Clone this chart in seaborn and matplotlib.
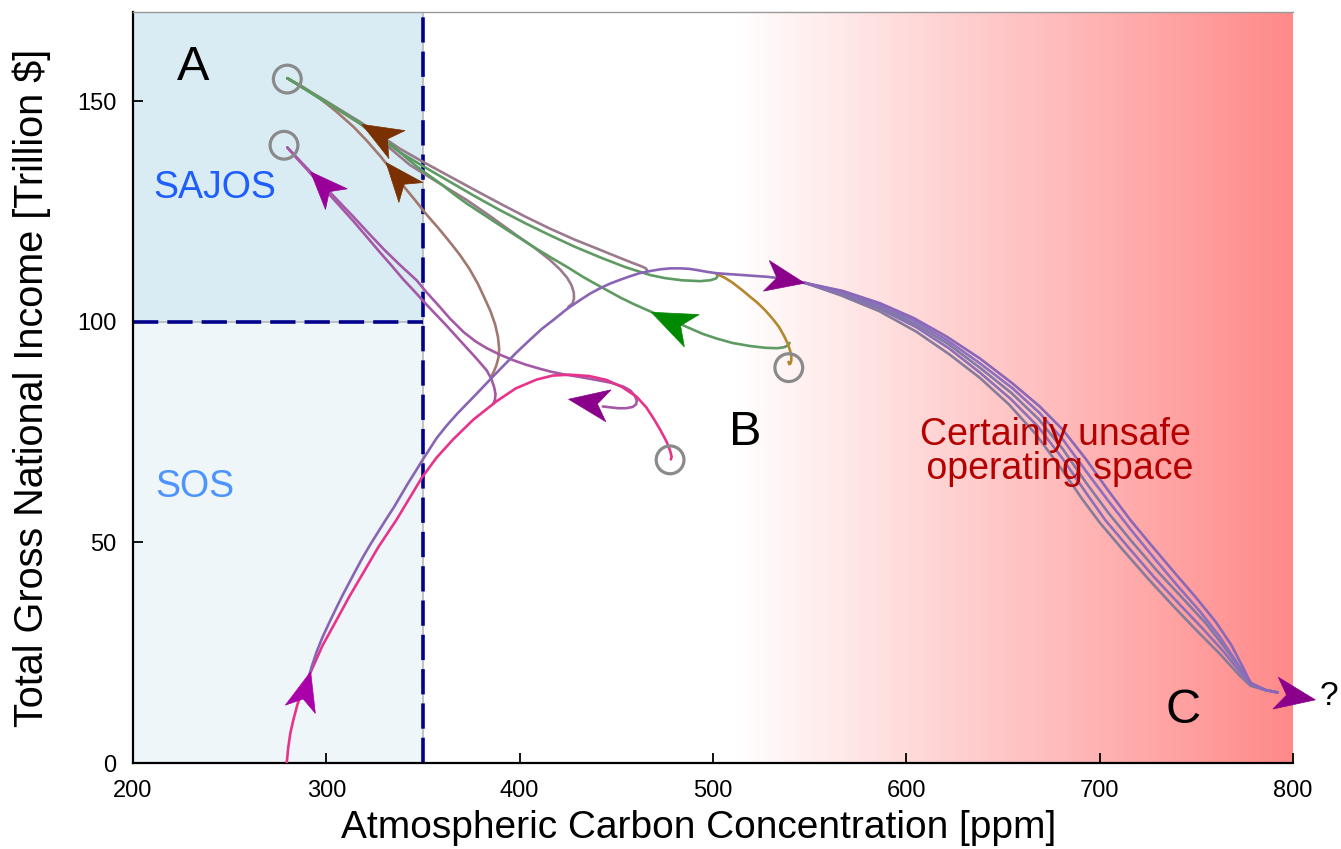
import numpy as np
import matplotlib
matplotlib.use("Agg")
import matplotlib.pyplot as plt
import seaborn as sns
from matplotlib.path import Path
from matplotlib.markers import MarkerStyle
from matplotlib.transforms import Affine2D
from matplotlib.colors import LinearSegmentedColormap


# trajectories, (ppm, trillion $)
PINK = [(279.5, 0), (280.3, 3.5), (281.4, 6.8), (282.9, 9.7), (285, 13.2), (288, 16.8), (291.6, 20.3),
        (298, 26.6), (305.4, 32.5), (312, 37.8), (319.1, 43.1), (327, 49), (336.4, 55.2), (343, 60),
        (349.3, 64.6), (357, 69.2), (365.7, 73.4), (376, 77.8), (388.1, 82), (398, 84.9), (408.8, 86.9),
        (417, 87.8), (426, 88), (436, 87.7), (445, 86.8), (453, 85.2), (460.5, 83), (465.5, 80.6),
        (469.5, 77.9), (473, 75.3), (476, 72.8), (477.8, 70.8), (478.6, 69.4), (478.2, 68.8)]
RISE = [(290.3, 18.5), (292.4, 21.8), (295, 25.2), (298, 28.5), (301.5, 31.8), (305, 35), (308.5, 38.1),
        (312, 41), (315.5, 43.9), (319.1, 46.8), (323, 49.7), (327, 52.5), (331, 55.3), (335, 58),
        (342, 63.2), (346, 66), (349.8, 68.7), (357, 73.6), (362.5, 76.6), (368, 79.3), (374, 82),
        (379.5, 84.5), (386, 87.5), (392, 90.2), (398.5, 93.1), (405.3, 95.9), (411.5, 98.4),
        (418, 100.6), (424.5, 102.9), (431.2, 104.9), (436.5, 106.4), (441.6, 107.6), (446.5, 108.6),
        (451.9, 109.5), (457, 110.3), (462, 111), (467.5, 111.5), (473, 111.9), (478, 112.1),
        (483, 112.1), (487.5, 112), (492, 111.7), (497, 111.3), (501.9, 111), (508, 110.8),
        (515, 110.6), (521, 110.4), (527.7, 110.2), (534, 109.9), (540, 109.6), (547.6, 108.8)]
BUNDLE = [
    [(547.6, 108.8), (566, 106), (586, 102.4), (605, 97.8), (622, 92.7), (638, 87.3), (653, 81.3),
     (667, 74.5), (680, 66.8), (691, 59.8), (700, 54.5), (712, 48.3), (725, 41.8), (738, 35.6),
     (750, 30.1), (762, 24.8), (772, 20), (778, 17.5), (786, 16.5), (792, 16)],
    [(547.6, 108.8), (566, 106.3), (586, 103), (605, 98.8), (622, 94), (638, 88.5), (654, 82.5),
     (668, 76.3), (681, 68.9), (693, 61.2), (703, 55), (715, 48.8), (728, 42.2), (741, 36.1),
     (753, 30.6), (764, 25.3), (773, 20.4), (778.5, 17.6), (786, 16.5), (792, 16)],
    [(547.6, 108.8), (566.5, 106.5), (586, 103.4), (604.5, 99.5), (621.5, 95), (638, 89.6),
     (654.5, 83.8), (668.5, 77.9), (681, 71.1), (693, 63.5), (705, 56.4), (717, 50), (730, 43.4),
     (743, 37.3), (755, 31.6), (765, 26), (773.5, 20.9), (778.5, 17.8), (786, 16.5), (792, 16)],
    [(547.6, 108.8), (566.8, 106.8), (586.2, 103.8), (604.2, 100.2), (621.2, 95.8), (638, 90.6),
     (655, 84.9), (669, 79.3), (681, 73.3), (693, 66.1), (705, 59.1), (717, 52.4), (729, 46),
     (741, 39.8), (752, 34.3), (762, 28.7), (770, 23.4), (776, 19.4), (779, 17.8), (786, 16.5), (792, 16)],
    [(547.6, 108.8), (567, 107), (586.4, 104.2), (604, 100.8), (621, 96.6), (638, 91.7), (655, 86),
     (669, 80.8), (681, 75.5), (693, 68.8), (704, 62), (716, 55), (727, 49.2), (739, 43), (750, 37.4),
     (760, 32), (768, 26.8), (774, 21.8), (778, 18.2), (786, 16.5), (792, 16)],
]
BUNDLE_COLORS = ["#857c9c", "#8b70b8", "#7f7aa6", "#8c6fbf", "#8a68b8"]

M1 = [(279.8, 155.2), (298, 150.5), (317.4, 145.3), (338.1, 139.2), (351, 136), (364, 132.9),
      (377, 129.8), (389.8, 126.8), (403, 123.8), (415.7, 121.1), (428.5, 118.6), (441.6, 116.3),
      (450, 114.8), (458, 113.4), (462.8, 112.6), (465.3, 112.1), (466, 111.6), (465.2, 111.2), (463, 111.1)]
G1 = [(279.8, 155.2), (298, 150.4), (317.4, 145), (338.1, 138.4), (351, 135), (364, 131.7),
      (377, 128.4), (389.8, 125.3), (403, 122.3), (415.7, 119.6), (428.5, 117), (441.6, 114.6),
      (454.5, 112.4), (467.4, 110.6), (475, 109.9), (484, 109.4), (493.3, 109.2), (498.5, 109.4),
      (501.5, 109.8), (502.4, 110.3), (501.9, 110.8)]
OCHRE = [(501.9, 110.8), (506, 110), (510, 108.9), (515, 107.2), (519.1, 105.7), (523, 104.3),
         (527, 102.6), (531, 100.6), (534, 98.9), (536.5, 97), (538.5, 95.2), (539.8, 93.6),
         (540.5, 92.3), (540.5, 91.2), (540, 90.5), (539.4, 90.4), (539.1, 90.9)]
G2 = [(539.6, 95.2), (538.6, 94.6), (536.6, 94.2), (533, 94), (527, 94.1), (519.1, 94.5), (510, 95.2),
      (501.9, 96.2), (495, 97.2), (489.7, 98.2), (484, 99.3), (478, 100.4), (472, 101.5),
      (465.7, 102.7), (459, 104), (452, 105.5), (447, 106.7), (441.6, 108), (433, 110.1), (425, 112.3),
      (416, 114.6), (407, 117), (398.5, 119.4), (390, 121.8), (381, 124.4), (372.6, 126.8),
      (366, 128.9), (360, 131), (353, 133.2), (346.7, 135.2), (341, 137.3), (335, 139.6),
      (326, 142.4), (317.4, 145), (308, 147.6), (298, 150.2), (289, 152.7), (279.8, 155.2)]
M2 = [(279.8, 155.2), (298, 150.3), (317.4, 144.9), (330, 140.4), (343.3, 135.5), (358, 131.5),
      (372.6, 127.6), (385.5, 123.7), (398.4, 119.6), (407, 117), (415.7, 114), (421, 111.8),
      (424.5, 110), (426.8, 108.3), (428, 106.6), (428.1, 105.2), (427.3, 104.1), (425.2, 103.4)]
L1 = [(279.8, 155.2), (288, 153.2), (296.7, 150.6), (305, 147.7), (314, 144.2), (321, 141),
      (328, 137.5), (334, 134.2), (340, 130.7), (346, 127.5), (352, 124.2), (358, 121.2), (364, 118),
      (369, 115.2), (374, 112), (378.5, 108.5), (382, 105.2), (385, 102.3), (387.3, 99.4),
      (388.8, 96.5), (389.4, 93.8), (389, 91.8), (387.8, 89.9), (386.3, 88.4), (385, 87.3)]
P1 = [(279.8, 139.5), (285, 137.1), (290, 134.8), (295, 132.5), (300, 130.2), (307, 127), (314, 123.8),
      (322, 120), (330, 116.3), (338, 112.9), (346.7, 109.4), (352, 106.6), (358, 103.7), (364, 100.7),
      (370.9, 97.7), (377, 95.6), (383, 94), (390, 92.5), (396.6, 91.3), (403, 90.3), (410, 89.4),
      (416, 88.7), (422.6, 88.1), (431, 87.5), (439.8, 86.8), (447, 86.2), (453.6, 85.3), (457.3, 84.4),
      (459.6, 83.2), (460.6, 82.1), (460.2, 81.3), (458.5, 80.7), (455, 80.4), (451, 80.4),
      (447, 80.6), (443, 80.8)]
P2 = [(279.8, 139.5), (285, 136.9), (290, 134.5), (295, 132), (300, 129.6), (307, 126.2), (314, 122.8),
      (321, 119.2), (328, 115.6), (334, 112.6), (339.8, 109.6), (346, 106.7), (352, 103.8), (357, 101.5),
      (362, 99.2), (368, 96.3), (373, 93.9), (378, 91.5), (382.9, 89), (385.2, 87.2), (386.8, 85.2),
      (387.5, 83.6), (387.2, 82.3), (386.4, 81.4)]

CIRCLES_X = [279.8, 278.1, 539.2, 477.8]
CIRCLES_Y = [155.0, 140.0, 89.6, 68.7]

# arrow heads: base, tip, colour, length
ARROWS = [
    ((337, 140.2), (318, 145), "#7a3000", 29),
    ((345.5, 128.2), (328.5, 137.2), "#7a3000", 28),
    ((306, 127.5), (290.7, 134.6), "#990099", 27),
    ((446, 81.1), (425.2, 82.6), "#8b008b", 29),
    ((490.7, 97.7), (465.7, 102.7), "#008a00", 32),
    ((527.7, 110.5), (546.7, 108.9), "#8b008b", 28),
    ((286.4, 12.4), (291.6, 20.7), "#aa00aa", 28),
    ((791.6, 15.8), (810.5, 14.4), "#8b008b", 29),
]

XTICKS = [200, 300, 400, 500, 600, 700, 800]
YTICKS = [0, 50, 100, 150]

sns.set_style("ticks")
plt.rcParams["font.family"] = ["Liberation Sans", "DejaVu Sans"]
plt.rcParams.update({"text.color": "black", "axes.labelcolor": "black",
                     "xtick.color": "black", "ytick.color": "black"})

fig = plt.figure(figsize=(13.41, 8.49), dpi=100)
ax = fig.add_axes([133 / 1341, 1 - 763 / 849, 1160 / 1341, 751 / 849])
ax.set_xlim(200, 800)
ax.set_ylim(0, 170.2)

# safe regions and unsafe gradient
ax.fill_between([200, 350], 100, 170.2, color="#d9ecf3", lw=0, zorder=0)
ax.fill_between([200, 350], 0, 100, color="#eef6fa", lw=0, zorder=0)
reds = LinearSegmentedColormap.from_list("reds", ["#ffffff", "#ff8a8a"])
ax.imshow(np.linspace(0, 1, 120)[None, :], extent=(510, 800, 0, 170.2), aspect="auto",
          cmap=reds, zorder=0, interpolation="nearest")

ax.plot([350, 350], [0, 170.2], color="#b8b8b8", lw=1.2, zorder=1)
ax.plot([200, 350], [100, 100], color="#b8b8b8", lw=1.2, zorder=1)
ax.plot([350, 350], [0, 170.2], color="#00008b", lw=2.6, dashes=(7, 2.5), zorder=2)
ax.plot([200, 350], [100, 100], color="#00008b", lw=2.6, dashes=(7, 2.5), zorder=2)


def trace(points, color, lw=1.9):
    xs, ys = np.array(points).T
    sns.lineplot(x=xs, y=ys, ax=ax, color=color, lw=lw, sort=False, estimator=None, zorder=3,
                 solid_joinstyle="round", solid_capstyle="round")


for line, col in zip(BUNDLE, BUNDLE_COLORS):
    trace(line, col, 1.9)
trace(M1, "#9a7a8c")
trace(M2, "#9a7a8c")
trace(L1, "#a07870")
trace(G1, "#5e9b62")
trace(G2, "#5e9b62")
trace(OCHRE, "#b3872e")
trace(P1, "#a558a6")
trace(P2, "#a558a6")
trace(PINK, "#e8338a")
trace(RISE, "#8a64b4")

HEAD = Path([(1, 0), (-1, 0.8), (-0.45, 0), (-1, -0.8), (1, 0)],
            [Path.MOVETO, Path.LINETO, Path.LINETO, Path.LINETO, Path.CLOSEPOLY])
for base, tip, col, size in ARROWS:
    p0, p1 = ax.transData.transform([base, tip])
    ang = np.degrees(np.arctan2(p1[1] - p0[1], p1[0] - p0[0]))
    mk = MarkerStyle(HEAD, transform=Affine2D().rotate_deg(ang))
    ax.plot((base[0] + tip[0]) / 2, (base[1] + tip[1]) / 2, marker=mk, ms=size, color=col,
            mec=col, mew=0.5, zorder=6, clip_on=False)

ax.scatter(CIRCLES_X, CIRCLES_Y, s=400, facecolors="none", edgecolors="#8a8a8a", linewidths=2.3, zorder=5)

ax.text(231, 157.7, "A", fontsize=35, ha="center", va="center")
ax.text(516.6, 74.8, "B", fontsize=35, ha="center", va="center")
ax.text(743.1, 12.0, "C", fontsize=35, ha="center", va="center")
ax.text(818.5, 15.0, "?", fontsize=24, ha="center", va="center", clip_on=False)
ax.text(242.4, 130.3, "SAJOS", fontsize=27, color="#1e5eff", ha="center", va="center")
ax.text(232.1, 62.5, "SOS", fontsize=27, color="#4d94ff", ha="center", va="center")
ax.text(676.9, 70.5, "Certainly unsafe\n operating space", fontsize=27, color="#b50000",
        ha="center", va="center", multialignment="center", linespacing=0.95)

ax.set_xticks(XTICKS)
ax.set_yticks(YTICKS)
ax.tick_params(direction="in", length=7, width=1.3, labelsize=17, pad=12, color="black")
for side in ["left", "bottom"]:
    ax.spines[side].set_color("black")
    ax.spines[side].set_linewidth(1.6)
ax.spines["top"].set_color("#999999")
ax.spines["top"].set_linewidth(1.0)
ax.spines["right"].set_visible(False)

ax.set_xlabel("Atmospheric Carbon Concentration [ppm]", fontsize=28)
ax.set_ylabel("Total Gross National Income [Trillion $]", fontsize=28.5)
ax.xaxis.set_label_coords(0.488, -0.062)
ax.yaxis.set_label_coords(-0.071, 0.5)

fig.savefig("out.png", dpi=100)
